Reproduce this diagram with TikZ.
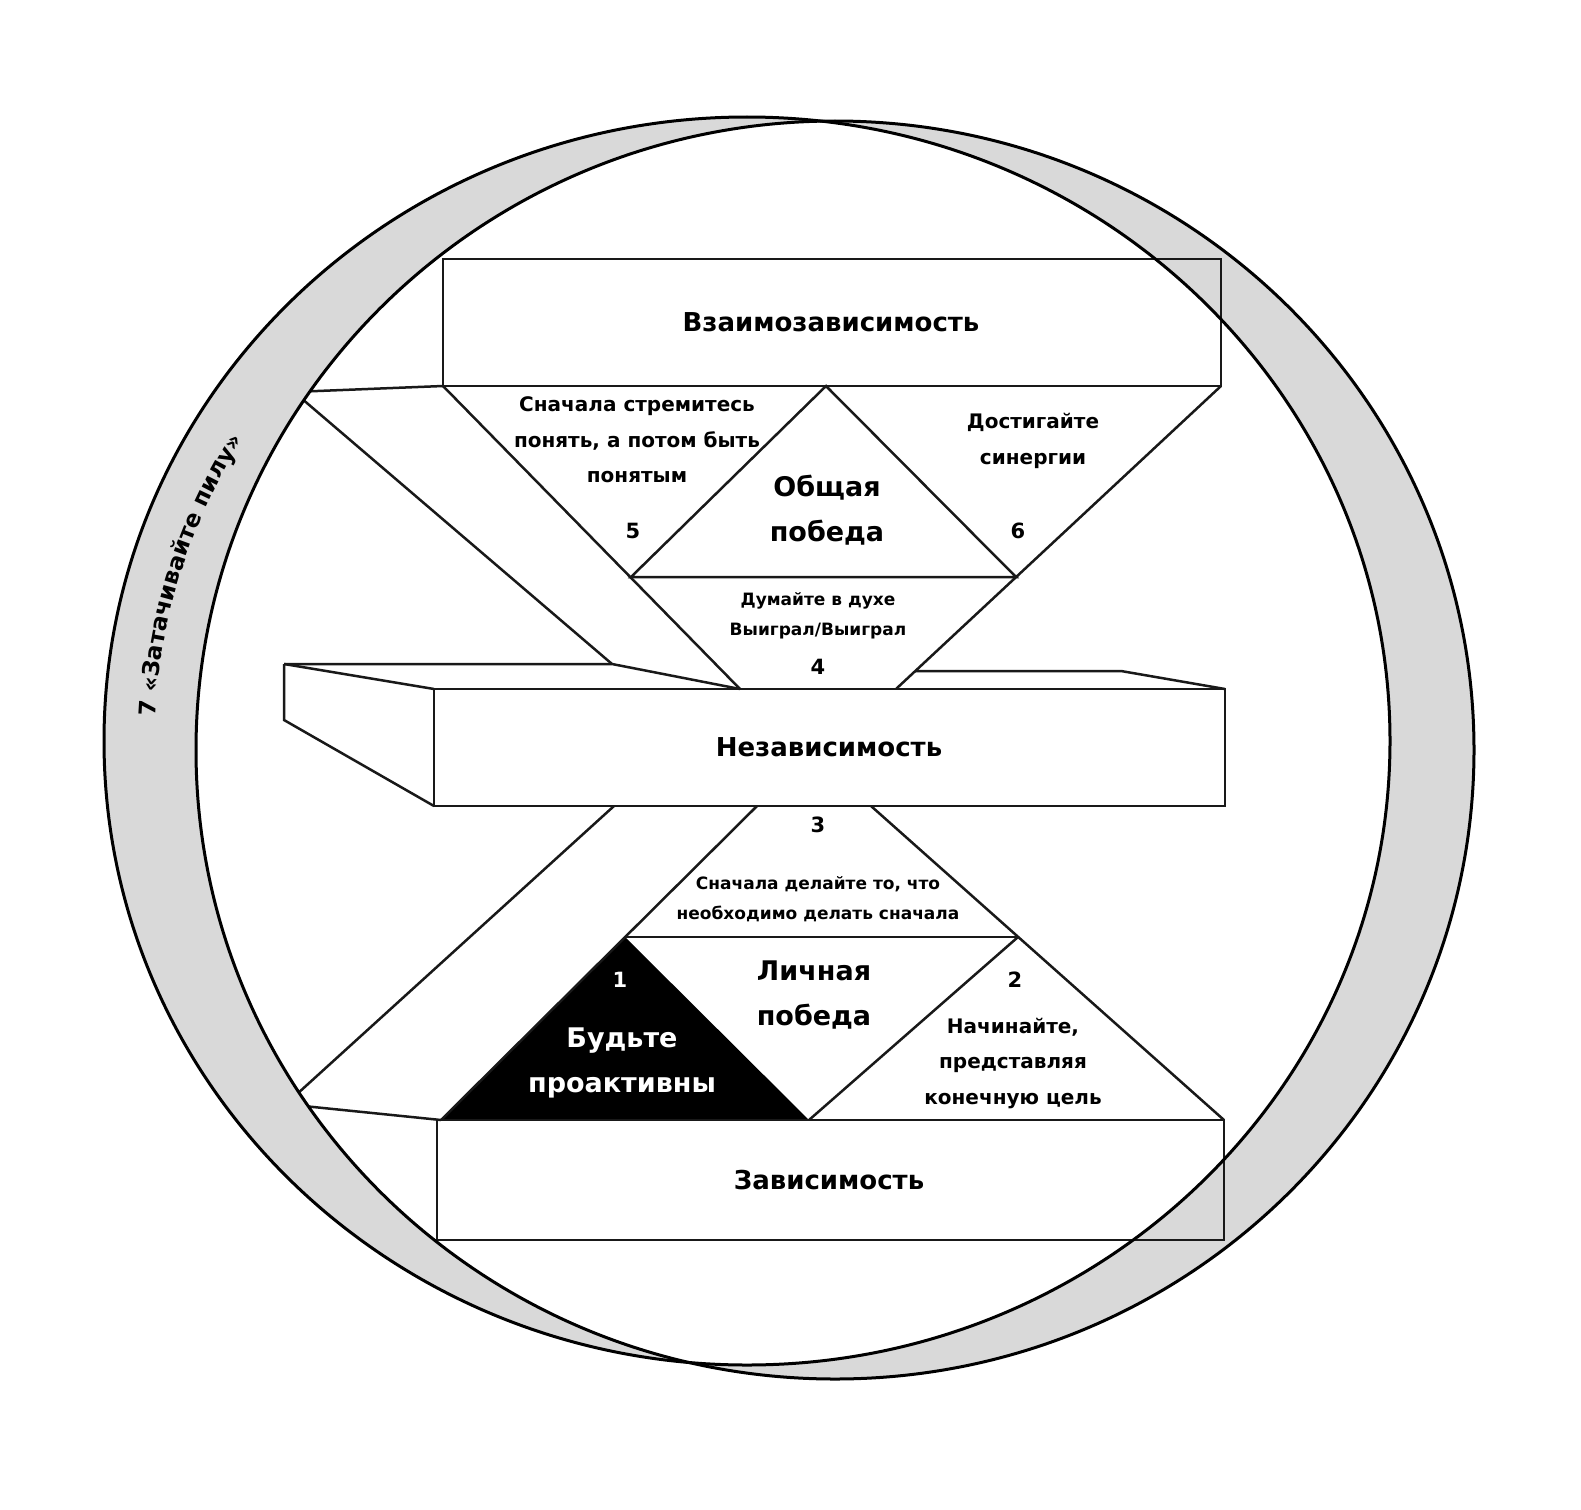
\documentclass[tikz,border=0pt]{standalone}
\usepackage{fontspec}
\setmainfont{DejaVu Sans}
\usetikzlibrary{decorations.text}
\begin{document}
\begin{tikzpicture}[x=1pt,y=-1pt,
  edge/.style={line width=2.5pt, line join=miter, black!90},
  ring/.style={line width=3pt},
  boxlabel/.style={font=\fontsize{26}{30}\selectfont\bfseries, align=center, inner sep=0pt},
  winlabel/.style={font=\fontsize{27}{45}\selectfont\bfseries, align=center, inner sep=0pt},
  midlabel/.style={font=\fontsize{20}{35.5}\selectfont\bfseries, align=center, inner sep=0pt},
  smalllabel/.style={font=\fontsize{17}{30}\selectfont\bfseries, align=center, inner sep=0pt},
  numlabel/.style={font=\fontsize{21}{25}\selectfont\bfseries, inner sep=0pt},
]
\useasboundingbox (0,0) rectangle (1581,1509);
\fill[white] (0,0) rectangle (1581,1509);

% grey crescents (symmetric difference of the two ovals)
\fill[black!15, even odd rule]
  (747,741) ellipse [x radius=643, y radius=624]
  (835,750) ellipse [x radius=639, y radius=629];

% ---- top box: interdependence
\draw[edge] (443,259) rectangle (1221,386);
\draw[edge] (443,386) -- (740,689);
\draw[edge] (1221,386) -- (896,689);
\draw[edge] (826,386) -- (631,577) -- (1016,577) -- cycle;

% ---- side bands, clipped by the inner oval
\begin{scope}
  \clip (835,750) ellipse [x radius=639, y radius=629];
  \draw[edge] (280,392.5) -- (443,386);
  \draw[edge] (280,380) -- (612,664);
  \draw[edge] (280,1109.5) -- (614,806);
  \draw[edge] (280,1103.6) -- (441,1120);
\end{scope}

% ---- independence block
\draw[edge] (434,689) rectangle (1225,806);
\draw[edge] (284,664) -- (434,689);
\draw[edge] (284,664) -- (284,720) -- (434,806);
\draw[edge] (284,664) -- (612,664) -- (740,689);
\draw[edge] (915,671) -- (1121,671) -- (1225,689);

% ---- lower pyramid
\fill[black] (625,937) -- (441,1120) -- (809,1120) -- cycle;
\draw[edge] (441,1120) -- (757,806);
\draw[edge] (871,806) -- (1224,1120);
\draw[edge] (625,937) -- (1018,937);
\draw[edge] (1018,937) -- (809,1120);

% ---- dependence box
\draw[edge] (437,1120) rectangle (1224,1240);

% ---- oval outlines
\draw[ring] (747,741) ellipse [x radius=643, y radius=624];
\draw[ring] (835,750) ellipse [x radius=639, y radius=629];

% ---- texts
\node[boxlabel] (tInter) at (831,322) {Взаимозависимость};
\node[boxlabel] (tIndep) at (829,747) {Независимость};
\node[boxlabel] (tDep) at (829,1180) {Зависимость};

\node[winlabel] (tCommon) at (827,510) {Общая\\победа};
\node[winlabel] (tPersonal) at (814,995) {Личная\\победа};

\node[midlabel] (t5) at (637,440) {Сначала стремитесь\\понять, а потом быть\\понятым};
\node[numlabel] (n5) at (633,531) {5};
\node[midlabel] (t6) at (1033,441) {Достигайте\\синергии};
\node[numlabel] (n6) at (1018,531) {6};

\node[smalllabel] (t4) at (818,616) {Думайте в духе\\Выиграл/Выиграл};
\node[numlabel] (n4) at (818,667) {4};

\node[numlabel] (n3) at (818,825) {3};
\node[smalllabel] (t3) at (818,899) {Сначала делайте то, что\\необходимо делать сначала};

\node[numlabel, text=white] (n1) at (620,980) {1};
\node[winlabel, text=white] (t1) at (622,1063) {Будьте\\проактивны};

\node[numlabel] (n2) at (1015,980) {2};
\node[midlabel] (t2) at (1013,1063) {Начинайте,\\представляя\\конечную цель};

% ---- ring label along the left crescent
\path[decorate, decoration={text along path, text align=center,
  text={|\fontsize{23}{23}\selectfont\bfseries|7 «Затачивайте  пилу»}}]
  (747,741) ++(167:592 and 573)
  arc[start angle=167, end angle=227, x radius=592, y radius=573];
\end{tikzpicture}
\end{document}
